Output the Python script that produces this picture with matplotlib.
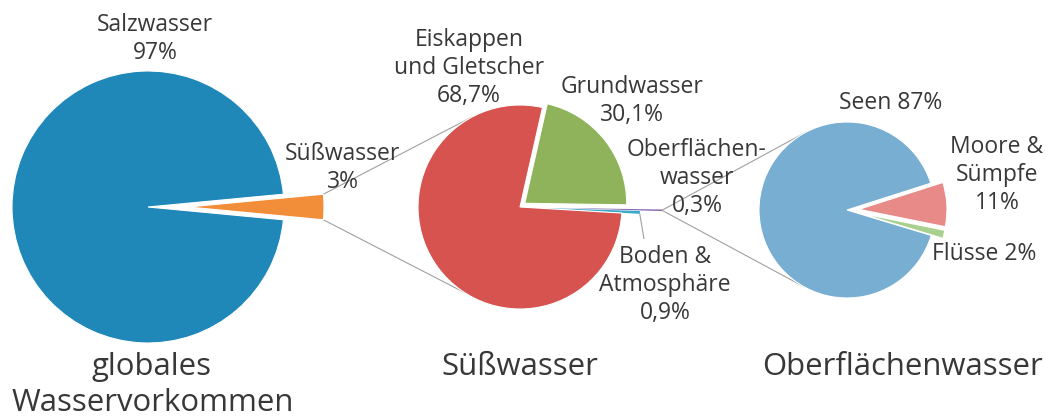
import matplotlib.pyplot as plt
import numpy as np

# Daten: Wasservorkommen der Erde (Anteile wie im Bild gezeichnet, Beschriftung wie im Bild)
global_namen = ['Süßwasser', 'Salzwasser']
global_prozent = ['3%', '97%']
global_anteile = [3, 97]

suess_namen = ['Boden &\nAtmosphäre', 'Oberflächen-\nwasser', 'Grundwasser', 'Eiskappen\nund Gletscher']
suess_prozent = ['0,9%', '0,3%', '30,1%', '68,7%']
suess_anteile = [0.45, 0.25, 21.7, 77.6]

ober_namen = ['Flüsse', 'Moore &\nSümpfe', 'Seen']
ober_prozent = ['2%', '11%', '87%']
ober_anteile = [1.5, 8.1, 90.4]

titel = ['globales\nWasservorkommen', 'Süßwasser', 'Oberflächenwasser']

plt.rcParams['font.family'] = ['Open Sans', 'DejaVu Sans']
textfarbe = '#383838'
linienfarbe = '#a0a0a0'

W, H = 1048, 416
fig = plt.figure(figsize=(W / 100, H / 100), dpi=100)
ax = fig.add_axes([0, 0, 1, 1])


def px(x, y):
    # Pixelposition (oben links) -> Datenkoordinaten
    return (x, H - y)


def rand(w, winkel, radius=None):
    r = w.r if radius is None else radius
    a = np.deg2rad(winkel)
    return (w.center[0] + r * np.cos(a), w.center[1] + r * np.sin(a))


# Pie 1 (explode in Pixeln)
w1, _ = ax.pie(global_anteile, colors=['#f28e3a', '#1f88b9'], startangle=-5.4,
               radius=136, center=px(148, 207), explode=[40, 0],
               wedgeprops=dict(edgecolor='white', linewidth=0.8), frame=True)

# Pie 2
w2, _ = ax.pie(suess_anteile, colors=['#37a9c9', '#8a6bb0', '#8eb35a', '#d6534f'],
               startangle=-3.4, radius=102, center=px(520, 207),
               explode=[18, 40, 6, 0],
               wedgeprops=dict(edgecolor='white', linewidth=0.8), frame=True)
for w in w2[:2]:
    w.set_linewidth(0)

# Pie 3
w3, _ = ax.pie(ober_anteile, colors=['#a9d08e', '#e78a88', '#77aed1'],
               startangle=-16.8, radius=88, center=px(847, 210),
               explode=[12, 12, 0],
               wedgeprops=dict(edgecolor='white', linewidth=0.8), frame=True)

# Verbindungslinien
oran = w1[0]
rot = w2[3]
for th, ziel in [(oran.theta2, 118), (oran.theta1, 237)]:
    p0 = rand(oran, th)
    p1 = rand(rot, ziel)
    ax.plot([p0[0], p1[0]], [p0[1], p1[1]], color=linienfarbe, lw=0.8, zorder=0)

lila = w2[1]
spitze = rand(lila, (lila.theta1 + lila.theta2) / 2)
blau = w3[2]
for ziel in [118, 241]:
    p1 = rand(blau, ziel)
    ax.plot([spitze[0], p1[0]], [spitze[1], p1[1]], color=linienfarbe, lw=0.8, zorder=0)

cyan = w2[0]
p0 = rand(cyan, (cyan.theta1 + cyan.theta2) / 2)
ax.plot([p0[0], p0[0] + 4], [p0[1] - 2, p0[1] - 26], color=linienfarbe, lw=0.8)

# Beschriftungen
klein = dict(fontsize=16.5, color=textfarbe, ha='center', va='center', linespacing=1.22)
ax.text(*px(155, 39), global_namen[1] + '\n' + global_prozent[1], **klein)
ax.text(*px(343, 168), global_namen[0] + '\n' + global_prozent[0], **klein)
ax.text(*px(469, 68), suess_namen[3] + '\n' + suess_prozent[3], **klein)
ax.text(*px(632, 101), suess_namen[2] + '\n' + suess_prozent[2], **klein)
ax.text(*px(697, 178), suess_namen[1] + '\n' + suess_prozent[1], **klein)
ax.text(*px(665, 285), suess_namen[0] + '\n' + suess_prozent[0], **klein)
ax.text(*px(891, 103), ober_namen[2] + ' ' + ober_prozent[2], **klein)
ax.text(*px(997, 175), ober_namen[1] + '\n' + ober_prozent[1], **klein)
ax.text(*px(984, 254), ober_namen[0] + ' ' + ober_prozent[0], **klein)

gross = dict(fontsize=22.4, color=textfarbe, ha='center', va='baseline')
z1, z2 = titel[0].split('\n')
ax.text(*px(151, 375), z1, **gross)
ax.text(*px(153, 411), z2, **gross)
ax.text(*px(520, 375), titel[1], **gross)
ax.text(*px(903, 375), titel[2], **gross)

ax.set_xlim(0, W)
ax.set_ylim(0, H)
ax.set_aspect('equal')
ax.axis('off')

fig.savefig('out.png', dpi=100)
